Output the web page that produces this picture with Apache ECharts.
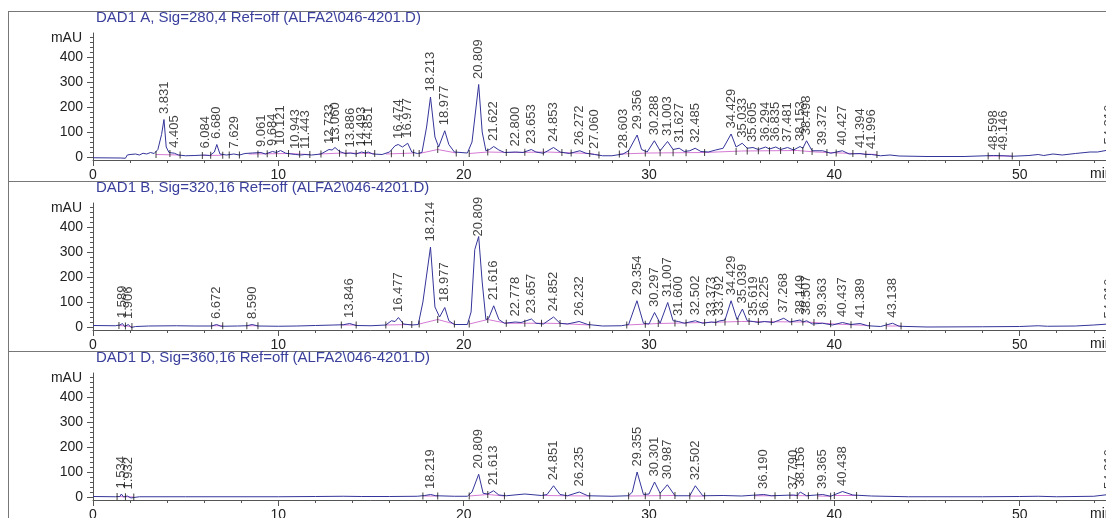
<!DOCTYPE html>
<html>
<head>
<meta charset="utf-8">
<script src="https://cdn.jsdelivr.net/npm/echarts@6/dist/echarts.min.js"></script>
<style>
html, body { margin: 0; padding: 0; overflow: hidden; background: #fff; }
#Chrom { width: 1240px; height: 518px; }
</style>
</head>
<body>
<div id="Chrom"></div>
<script>
var titles = [
    'DAD1 A, Sig=280,4 Ref=off (ALFA2\\046-4201.D)',
    'DAD1 B, Sig=320,16 Ref=off (ALFA2\\046-4201.D)',
    'DAD1 D, Sig=360,16 Ref=off (ALFA2\\046-4201.D)'
];

var yMajor = [0, 100, 200, 300, 400];
var yMinor = [20, 40, 60, 80, 120, 140, 160, 180, 220, 240, 260, 280, 320, 340, 360, 380, 420, 440, 460, 480];

// signal, [min, mAU]
var traceA = [[0,-3],[1.5,-4],[1.75,-5],[1.85,8],[2.0,10],[2.1,3],[2.3,12],[2.5,8],[2.7,15],[2.9,12],[3.1,18],[3.3,14],[3.5,30],[3.7,90],[3.83,150],[3.95,40],[4.1,18],[4.4,15],[4.6,8],[5.0,5],[5.5,6],[6.0,8],[6.1,12],[6.3,6],[6.55,20],[6.68,50],[6.85,12],[7.2,8],[7.6,12],[7.9,8],[8.2,14],[8.6,16],[9.06,18],[9.3,12],[9.68,22],[9.9,18],[10.12,26],[10.4,15],[10.94,10],[11.2,8],[11.44,10],[11.8,8],[12.3,12],[12.73,30],[12.9,28],[13.06,38],[13.3,22],[13.6,14],[13.89,16],[14.2,12],[14.49,20],[14.7,16],[14.85,20],[15.1,12],[15.6,10],[16.0,20],[16.3,45],[16.47,50],[16.7,40],[16.98,55],[17.2,20],[17.5,14],[17.75,18],[18.0,120],[18.21,240],[18.45,80],[18.65,40],[18.98,105],[19.2,50],[19.5,20],[20.2,16],[20.45,60],[20.81,290],[21.0,100],[21.2,25],[21.4,30],[21.62,42],[21.9,28],[22.2,18],[22.8,20],[23.2,18],[23.65,30],[23.9,20],[24.3,15],[24.85,38],[25.2,20],[25.7,14],[26.27,25],[26.6,15],[27.06,10],[27.5,5],[28.0,5],[28.6,12],[28.9,25],[29.36,88],[29.6,30],[29.9,20],[30.29,65],[30.6,25],[31.0,62],[31.3,30],[31.63,35],[31.9,22],[32.2,25],[32.49,35],[32.8,22],[33.2,20],[33.6,28],[34.0,35],[34.43,92],[34.7,40],[35.03,55],[35.3,35],[35.61,38],[35.9,30],[36.29,40],[36.5,32],[36.84,40],[37.1,30],[37.48,38],[37.8,28],[38.15,42],[38.3,35],[38.5,65],[38.8,25],[39.37,25],[39.8,15],[40.43,25],[40.8,12],[41.39,14],[41.7,10],[42.0,10],[42.5,5],[43.0,8],[43.5,4],[45,2],[47,2],[48.6,6],[49.15,5],[49.6,3],[50.5,6],[51.0,10],[51.3,6],[51.8,12],[52.3,8],[53,14],[53.8,20],[54.2,20],[54.8,28],[55.2,25],[57,22]];
var traceB = [[0,6],[1.2,5],[1.45,8],[1.59,14],[1.7,2],[1.8,-4],[1.91,10],[2.05,-2],[2.3,2],[3,4],[4.5,5],[5.5,4],[6.4,4],[6.67,10],[6.9,3],[7.8,4],[8.3,5],[8.59,10],[8.9,4],[10,3],[11,4],[12,6],[13,8],[13.5,9],[13.85,14],[14.2,6],[15,5],[15.8,8],[16.1,25],[16.3,22],[16.48,38],[16.75,12],[17.2,8],[17.55,10],[17.8,100],[18.21,320],[18.45,80],[18.7,40],[18.98,78],[19.2,25],[19.5,10],[20.2,10],[20.4,60],[20.6,310],[20.81,362],[21.0,180],[21.2,30],[21.35,35],[21.62,85],[21.9,30],[22.2,15],[22.78,20],[23.1,18],[23.66,32],[23.9,15],[24.3,12],[24.85,40],[25.2,15],[25.6,12],[26.23,22],[26.7,10],[27.5,4],[28.5,5],[28.9,10],[29.35,105],[29.7,15],[30.0,12],[30.3,58],[30.6,15],[31.01,98],[31.3,25],[31.6,22],[31.9,15],[32.5,25],[32.9,15],[33.37,20],[33.6,18],[33.79,24],[34.1,28],[34.43,105],[34.75,30],[35.04,72],[35.3,25],[35.62,22],[35.9,18],[36.23,22],[36.7,18],[37.27,35],[37.6,20],[38.15,28],[38.3,20],[38.51,25],[38.8,12],[39.36,15],[39.9,8],[40.44,18],[40.9,10],[41.39,14],[41.8,5],[42.5,2],[43.14,15],[43.5,3],[45,0],[48,1],[50,2],[51,5],[51.5,3],[53,4],[54,8],[54.8,12],[57,10]];
var traceC = [[0,2],[1.2,1],[1.45,2],[1.53,12],[1.65,0],[1.85,4],[1.93,8],[2.05,-4],[2.2,-2],[2.5,1],[5,1],[10,1],[12,2],[13.5,3],[14.5,2],[16,2],[17.5,3],[17.9,6],[18.22,10],[18.5,5],[19.5,3],[20.2,3],[20.45,20],[20.81,91],[21.05,15],[21.3,12],[21.61,25],[21.9,8],[22.3,5],[23.3,12],[24.2,6],[24.5,10],[24.85,45],[25.2,10],[25.6,5],[26.24,20],[26.7,5],[28,3],[28.9,5],[29.1,20],[29.36,100],[29.7,10],[30.0,12],[30.3,60],[30.6,15],[30.99,49],[31.4,5],[32.2,5],[32.5,45],[32.9,5],[34,6],[35,4],[36.19,10],[36.6,5],[37.79,8],[38.0,6],[38.16,20],[38.5,5],[39.37,10],[39.8,3],[40.44,22],[41,8],[42,4],[44,1],[48,1],[50,2],[51,3],[52,1],[54,3],[54.8,10],[57,6]];

// integration baselines, null = gap
var baseA = [[3.4,10],[4.7,8],null,[5.9,6],[7.0,7],null,[8.4,12],[10.5,14],[11.7,10],null,[12.2,12],[13.5,16],[15.2,14],null,[15.8,12],[17.3,16],null,[17.6,14],[18.6,30],[19.6,16],null,[20.3,14],[21.3,20],[22.5,18],[24.5,20],[26.8,14],[27.3,8],null,[28.4,12],[30,16],[33,18],[35,24],[38,26],[39,20],[41,14],[42.3,10],null,[48.3,4],[49.6,4]];
var baseB = [[1.4,6],[2.1,2],null,[6.4,5],[7.0,5],null,[8.3,5],[8.9,5],null,[13.4,8],[14.2,8],null,[15.8,8],[17.2,10],null,[17.6,12],[18.6,30],[19.5,12],null,[20.3,12],[21.3,30],[22.3,15],[24.5,15],[25.2,14],[26.8,8],null,[28.8,8],[30.5,14],[33,18],[35,22],[38.5,20],[40,12],[41.9,6],null,[42.8,4],[43.6,4]];
var baseC = [[1.3,2],[2.2,0],null,[17.8,4],[18.6,4],null,[20.3,4],[21.3,10],[22.2,4],null,[24.3,6],[25.5,5],[26.8,4],null,[28.9,4],[31.4,6],null,[32.2,4],[33,4],null,[35.7,5],[36.8,5],null,[37.6,6],[38.6,5],null,[39.1,4],[39.8,3],null,[40,6],[41.2,6]];

// peak start / end markers
var marksA = [[3.4,10],[4.15,14],[4.7,8],[5.9,6],[6.35,7],[7.0,7],[7.35,8],[7.9,8],[8.9,12],[9.4,13],[9.9,14],[10.55,14],[11.15,11],[11.7,10],[12.3,12],[13.3,15],[13.65,15],[14.2,14],[14.7,14],[15.2,14],[16.1,13],[16.75,15],[17.3,16],[17.6,14],[18.6,30],[19.6,16],[20.3,14],[21.3,20],[22.3,18],[23.3,19],[24.3,20],[25.3,18],[25.8,16],[26.8,14],[27.3,8],[28.4,12],[28.9,14],[29.8,16],[30.6,17],[31.3,17],[32.0,17],[33.0,18],[34.7,22],[35.3,24],[35.9,25],[36.5,25],[37.1,26],[37.8,26],[38.3,26],[38.8,22],[39.6,18],[40.1,16],[41.0,14],[41.7,11],[42.3,10],[48.3,4],[48.9,4],[49.6,4]];
var marksB = [[1.4,6],[1.75,4],[2.1,2],[6.4,5],[7.0,5],[8.3,5],[8.9,5],[13.4,8],[14.2,8],[15.8,8],[16.7,9],[17.2,10],[17.6,12],[18.6,30],[19.5,12],[20.3,12],[21.3,30],[22.3,15],[23.3,15],[24.2,15],[25.2,14],[26.8,8],[28.8,8],[29.8,11],[30.5,14],[31.4,16],[32.0,16],[33.0,18],[33.6,19],[34.1,20],[34.8,22],[35.4,22],[35.9,22],[36.6,21],[37.7,21],[38.3,20],[38.9,18],[39.8,13],[40.9,9],[41.9,6],[42.8,4],[43.6,4]];
var marksC = [[1.3,2],[1.75,1],[2.2,0],[17.8,4],[18.6,4],[20.3,4],[21.3,10],[22.2,4],[24.3,6],[25.5,5],[26.8,4],[28.9,4],[29.8,5],[30.6,5],[31.4,6],[32.2,4],[33.0,4],[35.7,5],[36.8,5],[37.6,6],[38.0,6],[38.6,5],[39.1,4],[39.8,3],[40.0,6],[41.2,6]];

// peak retention time, label height (mAU)
var peaksA = [[3.831,150],[4.405,15],[6.084,12],[6.680,50],[7.629,12],[9.061,18],[9.684,22],[10.121,26],[10.943,10],[11.443,10],[12.733,30],[13.060,38],[13.886,16],[14.493,20],[14.851,20],[16.474,50],[16.977,55],[18.213,240],[18.977,105],[20.809,290],[21.622,42],[22.800,20],[23.653,30],[24.853,38],[26.272,25],[27.060,10],[28.603,12],[29.356,88],[30.288,65],[31.003,62],[31.627,35],[32.485,35],[34.429,92],[35.033,55],[35.605,38],[36.294,40],[36.835,40],[37.481,38],[38.153,42],[38.498,65],[39.372,25],[40.427,25],[41.394,14],[41.996,10],[48.598,6],[49.146,5],[54.816,28]];
var peaksB = [[1.589,14],[1.906,10],[6.672,10],[8.590,10],[13.846,14],[16.477,38],[18.214,320],[18.977,78],[20.809,340],[21.616,85],[22.778,20],[23.657,32],[24.852,40],[26.232,22],[29.354,105],[30.297,58],[31.007,98],[31.600,22],[32.502,25],[33.373,20],[33.792,24],[34.429,105],[35.039,72],[35.619,22],[36.225,22],[37.268,35],[38.149,28],[38.507,25],[39.363,15],[40.437,18],[41.389,14],[43.138,15],[54.816,12]];
var peaksC = [[1.534,12],[1.932,8],[18.219,10],[20.809,91],[21.613,25],[24.851,45],[26.235,20],[29.355,100],[30.301,60],[30.987,49],[32.502,45],[36.190,10],[37.790,8],[38.156,20],[39.365,10],[40.438,22],[54.816,10]];

var chartDom = document.getElementById('Chrom');
var myChart = echarts.init(chartDom);

var font = 'Liberation Sans, Arial, sans-serif';
var panels = [
    { title: titles[0], trace: traceA, base: baseA, marks: marksA, peaks: peaksA },
    { title: titles[1], trace: traceB, base: baseB, marks: marksB, peaks: peaksB },
    { title: titles[2], trace: traceC, base: baseC, marks: marksC, peaks: peaksC }
];

var grid = [], xAxis = [], yAxis = [], series = [], title = [], graphic = [];

for (var i = 0; i < panels.length; i++) {
    var p = panels[i];
    var off = i * 170;

    grid.push({ left: 93, top: 33 + off, width: 1112, height: 127, outerBoundsMode: 'none', containLabel: false });

    title.push({
        text: p.title, left: 96, top: 10 + off, padding: 0,
        textStyle: { color: '#3a3f9c', fontSize: 15, fontWeight: 'normal', fontFamily: font }
    });

    xAxis.push({
        type: 'value', gridIndex: i, min: 0, max: 60, interval: 10,
        axisLine: { show: true, onZero: false, lineStyle: { color: '#555', width: 1 } },
        axisTick: { show: true, length: 6, lineStyle: { color: '#555' } },
        minorTick: { show: true, splitNumber: 5, length: 3, lineStyle: { color: '#555' } },
        splitLine: { show: false },
        axisLabel: { margin: 8, color: '#222', fontSize: 14, fontFamily: font }
    });

    yAxis.push({
        type: 'value', gridIndex: i, position: 'left', min: -12, max: 496,
        axisLine: { show: true, onZero: false, lineStyle: { color: '#555', width: 1 } },
        axisTick: { show: true, length: 6, customValues: yMajor, lineStyle: { color: '#555' } },
        axisLabel: { customValues: yMajor, margin: 10, color: '#222', fontSize: 14, fontFamily: font },
        splitLine: { show: false }
    });
    yAxis.push({
        type: 'value', gridIndex: i, position: 'left', min: -12, max: 496,
        axisLine: { show: false },
        axisTick: { show: true, length: 3, customValues: yMinor, lineStyle: { color: '#555' } },
        axisLabel: { show: false },
        splitLine: { show: false }
    });

    series.push({
        type: 'line', xAxisIndex: i, yAxisIndex: 2 * i, z: 2,
        showSymbol: false, connectNulls: false,
        lineStyle: { color: '#d57ad5', width: 1 },
        data: p.base.map(function (d) { return d === null ? '-' : d; })
    });
    series.push({
        type: 'line', xAxisIndex: i, yAxisIndex: 2 * i, z: 3,
        showSymbol: false,
        lineStyle: { color: '#34349a', width: 1 },
        data: p.trace
    });
    series.push({
        type: 'scatter', xAxisIndex: i, yAxisIndex: 2 * i, z: 4,
        symbol: 'rect', symbolSize: [1, 7],
        itemStyle: { color: '#111' },
        data: p.marks
    });
    series.push({
        type: 'scatter', xAxisIndex: i, yAxisIndex: 2 * i, z: 5,
        symbolSize: 1,
        itemStyle: { color: 'rgba(0,0,0,0)' },
        label: {
            show: true, rotate: 90, position: 'top', distance: 5,
            align: 'left', verticalAlign: 'middle',
            color: '#111', fontSize: 13, fontFamily: font,
            formatter: function (prm) { return prm.value[0].toFixed(3); }
        },
        data: p.peaks
    });

    graphic.push({
        type: 'text', x: 82, y: 38 + off,
        style: { text: 'mAU', fill: '#222', font: '14px ' + font, textAlign: 'right', textVerticalAlign: 'middle' }
    });
    graphic.push({
        type: 'text', x: 1090, y: 174 + off,
        style: { text: 'min', fill: '#222', font: '14px ' + font, textAlign: 'left', textVerticalAlign: 'middle' }
    });
    graphic.push({
        type: 'line', shape: { x1: 8, y1: 11.5 + off, x2: 1240, y2: 11.5 + off },
        style: { stroke: '#777', lineWidth: 1 }
    });
}

graphic.push({
    type: 'line', shape: { x1: 8.5, y1: 11, x2: 8.5, y2: 518 },
    style: { stroke: '#777', lineWidth: 1 }
});

const option = {
    animation: false,
    title: title,
    grid: grid,
    xAxis: xAxis,
    yAxis: yAxis,
    graphic: graphic,
    series: series
};

option && myChart.setOption(option);
</script>
</body>
</html>
